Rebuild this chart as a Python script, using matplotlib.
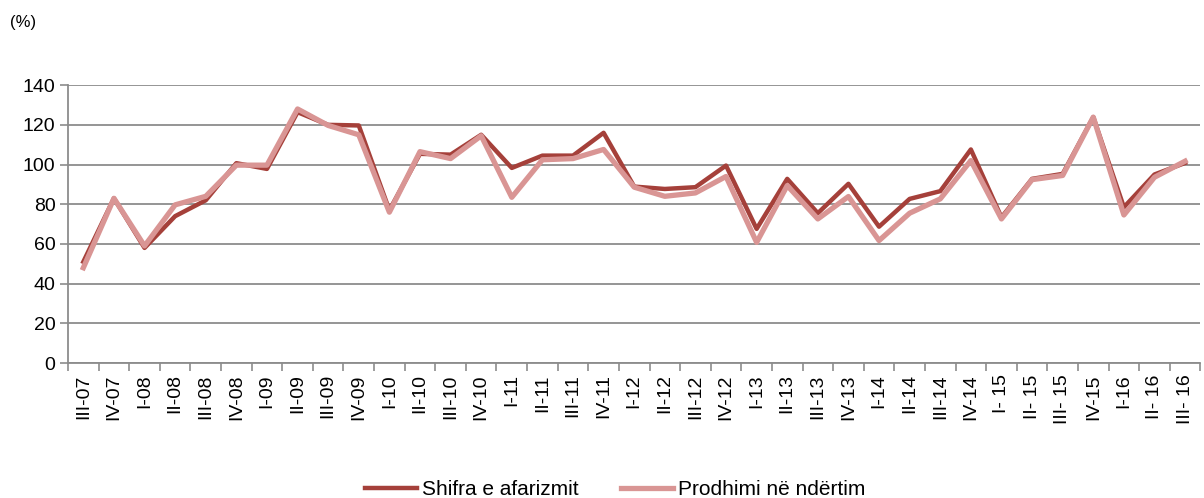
import numpy as np
import matplotlib
matplotlib.use('Agg')
import matplotlib.pyplot as plt

plt.rcParams['font.family'] = ['Liberation Sans', 'DejaVu Sans']

# quarters
quarters = ['III-07', 'IV-07', 'I-08', 'II-08', 'III-08', 'IV-08', 'I-09', 'II-09',
            'III-09', 'IV-09', 'I-10', 'II-10', 'III-10', 'IV-10', 'I-11', 'II-11',
            'III-11', 'IV-11', 'I-12', 'II-12', 'III-12', 'IV-12', 'I-13', 'II-13',
            'III-13', 'IV-13', 'I-14', 'II-14', 'III-14', 'IV-14', 'I- 15', 'II- 15',
            'III- 15', 'IV-15', 'I-16', 'II- 16', 'III- 16']

shifra = [51, 83, 58, 74, 82, 100.7, 97.8, 126.4, 120, 119.7, 77, 105.4, 105, 115,
          98.3, 104.5, 104.5, 116, 88.9, 87.7, 88.6, 99.5, 67.6, 92.8, 75.5, 90.3,
          68.7, 82.7, 86.6, 107.6, 73.4, 92.8, 95.3, 123.9, 78.5, 95, 100.8]

prodhimi = [48, 83, 59, 79.7, 84, 99.7, 99.7, 128, 119.7, 115, 76, 106.5, 103, 114.5,
            83.5, 102.4, 103, 107.6, 88.6, 84, 85.7, 94, 60.8, 89.4, 72.6, 83.9,
            61.7, 75.5, 82.7, 102, 72.6, 92.4, 94.5, 123.9, 74.6, 93.6, 101.7]

fig = plt.figure(figsize=(12.04, 4.98), dpi=100)
ax = fig.add_axes([0.0565, 0.271, 0.9405, 0.558])

x = np.arange(len(quarters))
ax.plot(x, shifra, color='#A5403A', lw=3.2, label='Shifra e afarizmit', zorder=3)
ax.plot(x, prodhimi, color='#D99594', lw=3.8, label='Prodhimi në ndërtim', zorder=4)

ax.set_xlim(-0.5, len(quarters) - 0.5)
ax.set_ylim(0, 140)
ax.set_yticks(np.arange(0, 141, 20))
ax.yaxis.grid(True, color='#8c8c8c', lw=1.3)
ax.set_axisbelow(True)

ax.set_xticks(x)
ax.set_xticklabels(quarters, rotation=90, fontsize=14)
ax.set_xticks(np.arange(-0.5, len(quarters), 1), minor=True)
ax.tick_params(axis='x', which='major', length=0, pad=8)
ax.tick_params(axis='x', which='minor', length=6, color='#8c8c8c', width=1.2)
ax.tick_params(axis='y', length=6, color='#8c8c8c', width=1.2, labelsize=14, pad=3)

for s in ['top', 'right']:
    ax.spines[s].set_visible(False)
ax.spines['left'].set_color('#8c8c8c')
ax.spines['bottom'].set_color('#8c8c8c')
ax.spines['left'].set_linewidth(1.3)
ax.spines['bottom'].set_linewidth(1.3)

fig.text(0.008, 0.955, '(%)', fontsize=12, va='center')

fig.legend(loc='lower center', bbox_to_anchor=(0.511, -0.04), ncol=2, frameon=False,
           fontsize=15, handlelength=2.5, handletextpad=0.25, columnspacing=2.0)

fig.savefig('out.png', dpi=100)
